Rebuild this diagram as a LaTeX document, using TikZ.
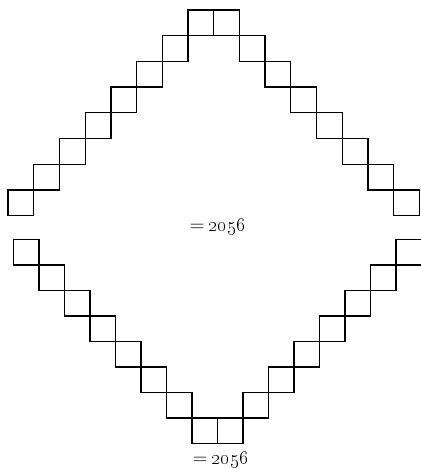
\documentclass[tikz,border=0pt]{standalone}
\usepackage{tikz}
\usetikzlibrary{positioning}
\tikzset{
	cell/.style={draw=black, line width=1.15pt, line join=miter},
	total/.style={font=\fontsize{19}{21}\selectfont, inner sep=0pt},
}

\begin{document}
\begin{tikzpicture}[x=0.03cm, y=-0.03cm]
	\useasboundingbox (0,0) rectangle (421,469);
	% upper figure, pointing up
	\foreach \k in {0,...,7} {
		\draw[cell] (188-\k*25.7, 10+\k*25.7) rectangle ++(25.7,25.7);
		\draw[cell] (213.7+\k*25.7, 10+\k*25.7) rectangle ++(25.7,25.7);
	}
	\node[total] (upper) at (218,227) {$=$\,\oldstylenums{2056}};
	% lower figure, pointing down
	\foreach \k in {0,...,7} {
		\draw[cell] (192-\k*25.5, 418-\k*25.5) rectangle ++(25.5,25.5);
		\draw[cell] (217.5+\k*25.5, 418-\k*25.5) rectangle ++(25.5,25.5);
	}
	\node[total] (lower) at (221,460) {$=$\,\oldstylenums{2056}};
\end{tikzpicture}
\end{document}
